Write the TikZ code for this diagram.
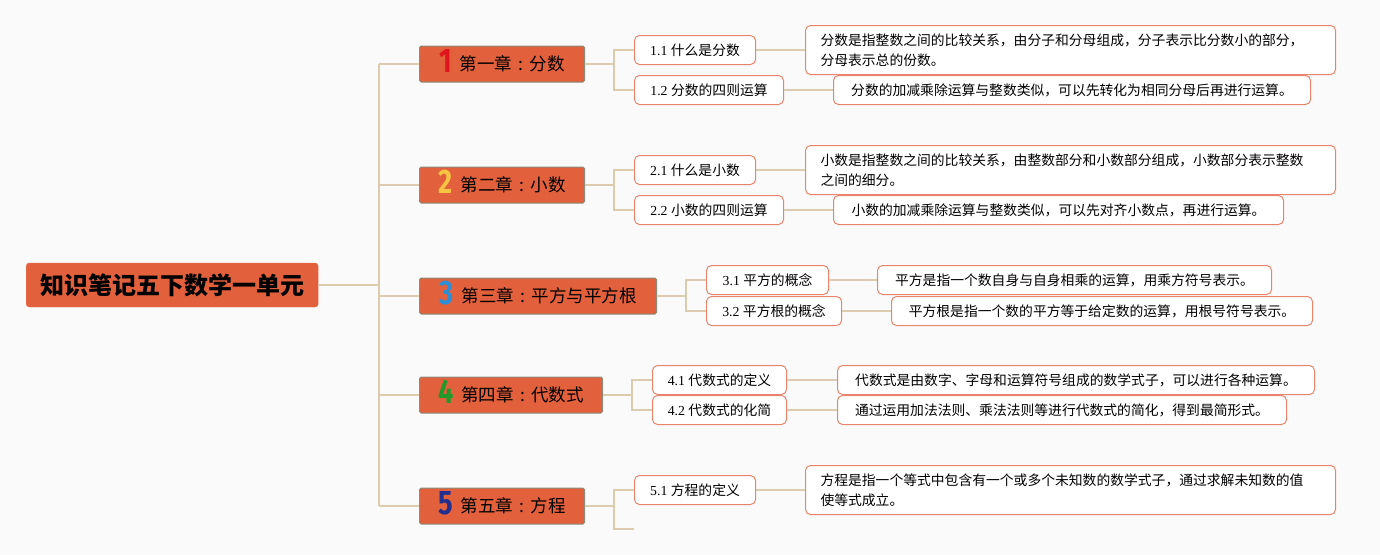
\documentclass[tikz,border=0pt]{standalone}
\usepackage{fontspec}
\setmainfont{Liberation Serif}
\newfontfamily\cjk{Noto Sans CJK SC}
\newfontfamily\numfont[FakeStretch=0.8]{Fira Sans}
\usepackage{xcolor}
\definecolor{bgc}{HTML}{FAFAFA}
\definecolor{orangec}{HTML}{E2603B}
\definecolor{chapline}{HTML}{8C8C7C}
\definecolor{linkc}{HTML}{DDCBB0}
\definecolor{boxline}{HTML}{E9846C}
\definecolor{num1}{HTML}{E0161E}
\definecolor{num2}{HTML}{F6C343}
\definecolor{num3}{HTML}{2C8FD8}
\definecolor{num4}{HTML}{22992A}
\definecolor{num5}{HTML}{232F8C}
\newcommand\cc{\makebox[1em]{:}}
\tikzset{
root/.style={fill=orangec,draw=orangec!85!white,rounded corners=3pt,minimum width=292pt,minimum height=44pt,inner sep=0pt,anchor=west,font=\cjk\bfseries\fontsize{24pt}{28pt}\selectfont},
chapter/.style={fill=orangec,draw=chapline,line width=1pt,rounded corners=1.5pt,minimum height=36pt,inner sep=0pt,text height=17pt,text depth=4pt,anchor=west,font=\cjk\fontsize{17.5pt}{20pt}\selectfont},
topic/.style={fill=white,draw=boxline,line width=1pt,rounded corners=5pt,minimum height=29pt,inner sep=0pt,anchor=west,font=\fontsize{13.8pt}{17pt}\selectfont},
detail/.style={topic,font=\cjk\fontsize{13.8pt}{20pt}\selectfont},
twoline/.style={detail,minimum height=49pt,align=left,text width=500pt,inner xsep=15pt},
link/.style={draw=linkc,line width=1.5pt}
}
\begin{document}
\begin{tikzpicture}[x=1pt,y=-1pt]
\fill[bgc] (0,0) rectangle (1380,555);
\useasboundingbox (0,0) rectangle (1380,555);
\node[root] (root) at (26,285) {知识笔记五下数学一单元};
\coordinate (sp) at (379,285);
\draw[link] (root.east)--(sp);
\foreach \i/\v/\w/\t in {1/64/165/第一章\cc 分数,2/185/165/第二章\cc 小数,3/296/237/第三章\cc 平方与平方根,4/395/183/第四章\cc 代数式,5/506/165/第五章\cc 方程} {
\node[chapter,minimum width=\w pt] (ch\i) at (419,\v) {\raisebox{-2pt}{\numfont\bfseries\fontsize{34pt}{34pt}\selectfont\color{num\i}\i}\hspace{8pt}\t};
\draw[link] (sp|-ch\i.west)--(ch\i.west);}
\draw[link] (sp|-ch1.west)--(sp|-ch5.west);
\foreach \i/\j/\x/\v/\w/\t in {1/1/634/50/121/什么是分数,1/2/634/90/149/分数的四则运算,2/1/634/170/121/什么是小数,2/2/634/210/149/小数的四则运算,3/1/706/280/122/平方的概念,3/2/706/311/135/平方根的概念,4/1/652/380/134/代数式的定义,4/2/652/410/134/代数式的化简,5/1/634/490/121/方程的定义} {
\node[topic,minimum width=\w pt] (t\i\j) at (\x,\v) {\i.\j\ {\cjk\t}};}
\foreach \i/\x in {1/614,2/614,3/686,4/632,5/614} {
\coordinate (jx\i) at (\x,0);
\draw[link] (ch\i.east)--(jx\i|-ch\i.east);}
\foreach \i in {1,2,3,4} {\draw[link] (t\i1.west)-|(jx\i|-ch\i.east)|-(t\i2.west);}
\coordinate (t52) at (634,529);
\draw[link] (t51.west)-|(jx5|-ch5.east)|-(t52);
\node[twoline] (d11) at (805,50) {分数是指整数之间的比较关系，由分子和分母组成，分子表示比分数小的部分，\\分母表示总的份数。};
\node[twoline] (d21) at (805,170) {小数是指整数之间的比较关系，由整数部分和小数部分组成，小数部分表示整数\\之间的细分。};
\node[twoline] (d51) at (805,490) {方程是指一个等式中包含有一个或多个未知数的数学式子，通过求解未知数的值\\使等式成立。};
\foreach \i/\j/\x/\v/\w/\t in {1/2/833/90/477/分数的加减乘除运算与整数类似，可以先转化为相同分母后再进行运算。,2/2/833/210/450/小数的加减乘除运算与整数类似，可以先对齐小数点，再进行运算。,3/1/877/280/394/平方是指一个数自身与自身相乘的运算，用乘方符号表示。,3/2/891/311/421/平方根是指一个数的平方等于给定数的运算，用根号符号表示。,4/1/837/380/477/代数式是由数字、字母和运算符号组成的数学式子，可以进行各种运算。,4/2/837/410/449/通过运用加法法则、乘法法则等进行代数式的简化，得到最简形式。} {
\node[detail,minimum width=\w pt] (d\i\j) at (\x,\v) {\t};}
\foreach \n in {11,12,21,22,31,32,41,42,51} {\draw[link] (t\n.east)--(d\n.west);}
\end{tikzpicture}
\end{document}
